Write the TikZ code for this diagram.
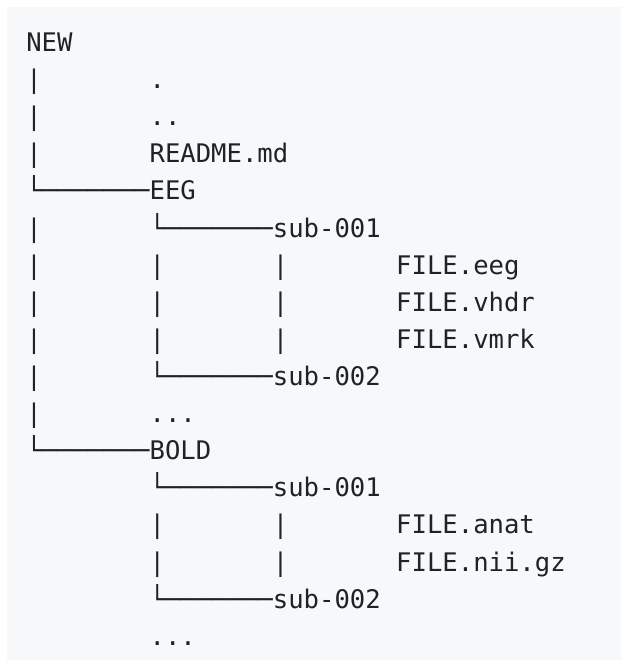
\documentclass[tikz,border=0pt]{standalone}
\usepackage{fontspec}
\newfontfamily\codefont{DejaVu Sans Mono}
\definecolor{codebg}{HTML}{F6F8FA}
\definecolor{codefg}{HTML}{1F2328}
\begin{document}
\begin{tikzpicture}[x=1pt,y=-1pt,
  codeline/.style={anchor=base west,inner sep=0pt,outer sep=0pt,text=codefg,
    font=\codefont\fontsize{25.6}{30}\selectfont}]
\useasboundingbox (0,0) rectangle (620,660);
\fill[codebg] (7,7) rectangle (630,670);
\def\xz{26.3}
\node[codeline] (l0)  at (\xz,51.6)  {NEW};
\node[codeline] (l1)  at (\xz,88.7)  {|~~~~~~~.};
\node[codeline] (l2)  at (\xz,125.8) {|~~~~~~~..};
\node[codeline] (l3)  at (\xz,162.9) {|~~~~~~~README.md};
\node[codeline] (l4)  at (\xz,200.0) {└───────EEG};
\node[codeline] (l5)  at (\xz,237.1) {|~~~~~~~└───────sub-001};
\node[codeline] (l6)  at (\xz,274.2) {|~~~~~~~|~~~~~~~|~~~~~~~FILE.eeg};
\node[codeline] (l7)  at (\xz,311.3) {|~~~~~~~|~~~~~~~|~~~~~~~FILE.vhdr};
\node[codeline] (l8)  at (\xz,348.4) {|~~~~~~~|~~~~~~~|~~~~~~~FILE.vmrk};
\node[codeline] (l9)  at (\xz,385.5) {|~~~~~~~└───────sub-002};
\node[codeline] (l10) at (\xz,422.6) {|~~~~~~~...};
\node[codeline] (l11) at (\xz,459.7) {└───────BOLD};
\node[codeline] (l12) at (\xz,496.8) {~~~~~~~~└───────sub-001};
\node[codeline] (l13) at (\xz,533.9) {~~~~~~~~|~~~~~~~|~~~~~~~FILE.anat};
\node[codeline] (l14) at (\xz,571.0) {~~~~~~~~|~~~~~~~|~~~~~~~FILE.nii.gz};
\node[codeline] (l15) at (\xz,608.1) {~~~~~~~~└───────sub-002};
\node[codeline] (l16) at (\xz,645.2) {~~~~~~~~...};
\end{tikzpicture}
\end{document}
